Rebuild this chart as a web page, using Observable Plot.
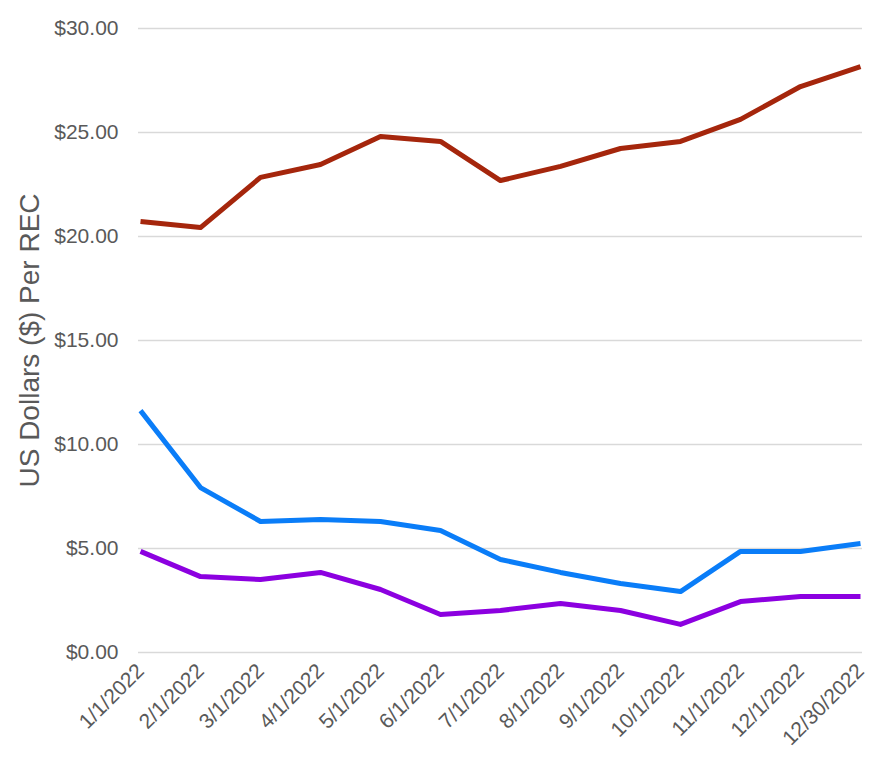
<!DOCTYPE html>
<html>
<head>
<meta charset="utf-8">
<script src="https://cdn.jsdelivr.net/npm/d3@7"></script>
<script src="https://cdn.jsdelivr.net/npm/@observablehq/plot@0.6"></script>
<style>
  html, body { margin: 0; padding: 0; background: #fff; }
  #chart svg { font-family: "Liberation Sans", Arial, sans-serif; }
</style>
</head>
<body>
<div id="chart"></div>
<script>
const dates = ["1/1/2022","2/1/2022","3/1/2022","4/1/2022","5/1/2022","6/1/2022","7/1/2022","8/1/2022","9/1/2022","10/1/2022","11/1/2022","12/1/2022","12/30/2022"];
const seriesNames = ["Series A", "Series B", "Series C"];
const redValues = [20.72, 20.43, 22.84, 23.46, 24.81, 24.57, 22.69, 23.37, 24.23, 24.57, 25.63, 27.21, 28.17];
const blueValues = [11.63, 7.93, 6.30, 6.39, 6.30, 5.87, 4.47, 3.85, 3.32, 2.93, 4.86, 4.86, 5.24];
const purpleValues = [4.86, 3.65, 3.51, 3.85, 3.03, 1.83, 2.02, 2.36, 2.02, 1.35, 2.45, 2.69, 2.69];
const yTicks = [0, 5, 10, 15, 20, 25, 30];
const colors = ["#A5260C", "#0A7DF8", "#8C00E0"];

const valueSets = [redValues, blueValues, purpleValues];
const data = [];
valueSets.forEach((vals, s) => vals.forEach((v, i) => data.push({series: seriesNames[s], date: dates[i], value: v})));

const chart = Plot.plot({
  width: 884,
  height: 768,
  marginTop: 28,
  marginBottom: 116,
  marginLeft: 138,
  marginRight: 22,
  style: {fontFamily: "'Liberation Sans', Arial, sans-serif", background: "#fff"},
  x: {type: "point", domain: dates, padding: 0},
  y: {domain: [0, 30]},
  color: {domain: seriesNames, range: colors},
  marks: [
    Plot.gridY(yTicks, {stroke: "#d9d9d9", strokeOpacity: 1, strokeWidth: 1.3}),
    Plot.axisY(yTicks, {
      tickSize: 0, tickPadding: 20,
      tickFormat: d => "$" + d.toFixed(2),
      fontSize: 21, fill: "#595959",
      label: "US Dollars ($) Per REC",
      labelAnchor: "center", labelArrow: "none", labelOffset: 119
    }),
    Plot.axisX({
      tickSize: 0, tickPadding: 15, tickRotate: -45,
      fontSize: 21, fill: "#595959", label: null
    }),
    Plot.line(data, {x: "date", y: "value", z: "series", stroke: "series", strokeWidth: 5, strokeLinejoin: "round", strokeLinecap: "butt"})
  ]
});
document.getElementById("chart").appendChild(chart);
chart.querySelectorAll("g[aria-label='y-axis label'] text, g[aria-label='y-axis label']").forEach(el => {
  el.setAttribute("font-size", 28);
  el.setAttribute("fill", "#595959");
});
</script>
</body>
</html>
